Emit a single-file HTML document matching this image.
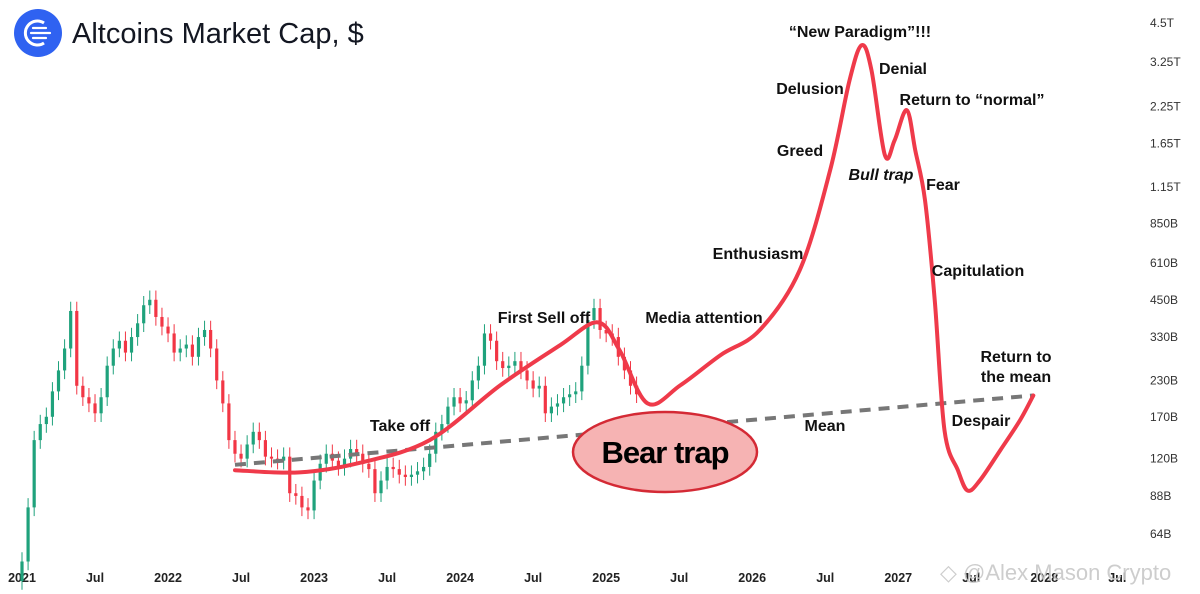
<!DOCTYPE html>
<html><head><meta charset="utf-8"><style>
html,body{margin:0;padding:0;background:#fff;width:1200px;height:594px;overflow:hidden}
svg{display:block;font-family:"Liberation Sans",sans-serif}
.lbl{font-size:16px;font-weight:bold;fill:#111}
.yt{font-size:12px;fill:#333}
.xt{font-size:12.5px;font-weight:bold;fill:#222}
</style></head><body>
<svg id="chart" width="1200" height="594" viewBox="0 0 1200 594" xmlns="http://www.w3.org/2000/svg">
<g>
<circle cx="38" cy="33" r="24" fill="#2f62f1"/>
<path d="M44 23 A12 12 0 1 0 44 43" fill="none" stroke="#fff" stroke-width="3"/>
<path d="M33 28 H46 M31 33 H50 M33 38 H46" stroke="#fff" stroke-width="2.2" stroke-linecap="round"/>
<text x="72" y="43" font-size="29" fill="#131722">Altcoins Market Cap, $</text>
</g>
<g id="yaxis"></g>
<g id="xaxis"></g>
<g id="candles"></g>
<g id="annot"></g>
<text x="940" y="580" font-size="22" fill="#c8c8c8" opacity="0.9">◇ @Alex Mason Crypto</text>
</svg>
<script>
// Y ticks (in billions) and labels
const yTickVals=[4500,3250,2250,1650,1150,850,610,450,330,230,170,120,88,64];
const yTickLabels=["4.5T","3.25T","2.25T","1.65T","1.15T","850B","610B","450B","330B","230B","170B","120B","88B","64B"];
// X ticks: month index from Jan 2021
const xTickMonths=[0,6,12,18,24,30,36,42,48,54,60,66,72,78,84,90];
const xTickLabels=["2021","Jul","2022","Jul","2023","Jul","2024","Jul","2025","Jul","2026","Jul","2027","Jul","2028","Jul"];
// Half-month closes (B), Jan 2021 - Mar 2025
const closes=[51,80,140,160,170,210,250,300,410,220,200,190,175,200,260,300,320,290,330,370,430,450,390,360,
340,290,300,310,280,330,350,300,230,190,140,125,120,135,150,140,122,120,118,122,90,88,80,78,
100,115,125,118,112,120,130,125,115,110,90,100,112,110,105,103,105,108,112,125,150,160,185,200,
190,195,230,260,340,320,270,255,260,270,250,230,215,220,175,185,190,200,205,210,260,380,420,350,
340,330,280,250,220,205];
// Cycle curve: month index and value (B)
const curveMonths=[17.5,22.8,27.8,33.5,39.3,44.2,47.3,49.1,51.4,54.1,57.4,60.6,63.9,66.4,68.0,69.0,69.8,70.9,71.7,72.7,73.4,74.2,75.0,75.8,76.9,77.7,78.7,80.4,82.0,83.1];
const curveVals=[109,107,116,140,221,308,373,296,190,221,284,349,575,1320,2795,3740,3040,1500,1695,2180,1560,1030,448,152,109,92,100,129,165,203];
// Mean line endpoints
const meanMonths=[17.5,83.1];
const meanVals=[114,203];

const NS="http://www.w3.org/2000/svg";
const X=m=>22+m*12.17;
const Y=v=>23+(Math.log(4500)-Math.log(v))*120.2;
function el(t,a,p){const e=document.createElementNS(NS,t);for(const k in a)e.setAttribute(k,a[k]);p.appendChild(e);return e;}
const ya=document.getElementById('yaxis');
yTickVals.forEach((v,i)=>{const t=el('text',{x:1150,y:Y(v)+4,class:'yt'},ya);t.textContent=yTickLabels[i];

});
const xa=document.getElementById('xaxis');
xTickMonths.forEach((m,i)=>{const t=el('text',{x:X(m),y:582,class:'xt','text-anchor':'middle'},xa);t.textContent=xTickLabels[i];

});
const cg=document.getElementById('candles');
for(let i=0;i<closes.length;i++){
 const o=i?closes[i-1]:closes[0]*0.85,c=closes[i];
 const up=c>=o,col=up?'#1fa27c':'#f23645';
 const x=X(i*0.5);
 const hi=Math.max(o,c)*1.08,lo=Math.min(o,c)*0.93;
 const w=el('line',{x1:x,x2:x,y1:Y(hi),y2:Y(lo),stroke:col,'stroke-width':1},cg);
 
 
 const top=Y(Math.max(o,c)),bot=Y(Math.min(o,c));
 const r=el('rect',{x:x-1.6,y:top,width:3.2,height:Math.max(1,bot-top),fill:col},cg);
 
 
}
const an=document.getElementById('annot');
const ml=el('line',{x1:X(meanMonths[0]),y1:Y(meanVals[0]),x2:X(meanMonths[1]),y2:Y(meanVals[1]),stroke:'#777','stroke-width':4,'stroke-dasharray':'11 8'},an);


// smooth curve via Catmull-Rom
const pts=curveMonths.map((m,i)=>[X(m),Y(curveVals[i])]);
let d=`M${pts[0][0]},${pts[0][1]}`;
for(let i=0;i<pts.length-1;i++){const p0=pts[i-1]||pts[i],p1=pts[i],p2=pts[i+1],p3=pts[i+2]||p2;
 d+=` C${p1[0]+(p2[0]-p0[0])/6},${p1[1]+(p2[1]-p0[1])/6} ${p2[0]-(p3[0]-p1[0])/6},${p2[1]-(p3[1]-p1[1])/6} ${p2[0]},${p2[1]}`;}
const cp=el('path',{d:d,fill:'none',stroke:'#ef3a4a','stroke-width':4,'stroke-linecap':'round'},an);


const ell=el('ellipse',{cx:665,cy:452,rx:92,ry:40,fill:'#f6b3b3',stroke:'#d42a35','stroke-width':2.5},an);


const bt=el('text',{x:665,y:463,'text-anchor':'middle','font-size':31,'font-weight':'bold',fill:'#000','letter-spacing':'-1'},an);
bt.textContent='Bear trap';


const labels=[["“New Paradigm”!!!",860,37,''],["Denial",903,74,''],["Delusion",810,94,''],["Return to “normal”",972,105,''],["Greed",800,156,''],["Bull trap",881,180,'italic'],["Fear",943,190,''],["Enthusiasm",758,259,''],["Capitulation",978,276,''],["Media attention",704,323,''],["First Sell off",544,323,''],["Return to",1016,362,''],["the mean",1016,382,''],["Take off",400,431,''],["Mean",825,431,''],["Despair",981,426,'']];
labels.forEach(l=>{const t=el('text',{x:l[1],y:l[2],'text-anchor':'middle',class:'lbl'},an);
 if(l[3])t.setAttribute('font-style','italic');t.textContent=l[0];
 
 });
</script>
</body></html>
